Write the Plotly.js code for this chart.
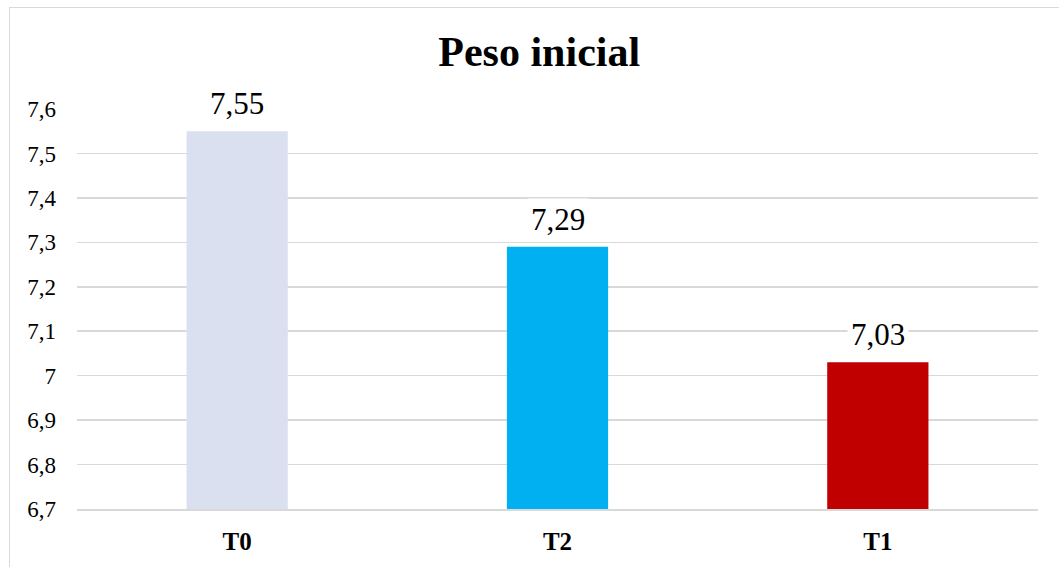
<!DOCTYPE html>
<html>
<head>
<meta charset="utf-8">
<script src="https://cdn.plot.ly/plotly-3.0.1.min.js"></script>
<style>
  html, body { margin: 0; padding: 0; background: #fff; }
  #wrap { position: relative; width: 1059px; height: 567px; overflow: hidden; }
  #chart { width: 1059px; height: 567px; }
  #frame { position: absolute; left: 9px; top: 7px; width: 1100px; height: 600px;
           border-top: 1.5px solid #D9D9D9; border-left: 1.5px solid #D9D9D9;
           pointer-events: none; }
</style>
</head>
<body>
<div id="wrap">
  <div id="chart"></div>
  <div id="frame"></div>
</div>
<script>
const categories = ["T0", "T2", "T1"];
const values = [7.55, 7.29, 7.03];
const barColors = ["#DAE0F0", "#00B0F0", "#C00000"];
const yTickValues = [6.7, 6.8, 6.9, 7.0, 7.1, 7.2, 7.3, 7.4, 7.5, 7.6];
const yTickLabels = ["6,7", "6,8", "6,9", "7", "7,1", "7,2", "7,3", "7,4", "7,5", "7,6"];
const valueLabels = ["7,55", "7,29", "7,03"];
const axisMin = 6.7;
const axisMax = 7.6;

const font = "Liberation Serif, Times New Roman, serif";

const trace = {
  type: "bar",
  x: categories,
  y: values.map(v => v - axisMin),
  base: axisMin,
  marker: { color: barColors, line: { width: 0 } },
  hoverinfo: "skip"
};

const annotations = categories.map((c, i) => ({
  x: c, y: values[i], xref: "x", yref: "y",
  text: valueLabels[i], showarrow: false,
  yanchor: "bottom", yshift: 6,
  font: { family: font, size: 31, color: "#000" },
  bgcolor: "#fff", borderpad: 3
}));

const layout = {
  width: 1059, height: 567,
  margin: { l: 77, r: 21, t: 109, b: 58 },
  paper_bgcolor: "#fff", plot_bgcolor: "#fff",
  showlegend: false,
  bargap: 0.684,
  separators: ",.",
  font: { family: font },
  title: {
    text: "<b>Peso inicial</b>",
    font: { family: font, size: 42, color: "#000" },
    x: 0.481, xref: "paper", xanchor: "center",
    y: 0.91, yref: "container", yanchor: "middle"
  },
  xaxis: {
    type: "category",
    showgrid: false, zeroline: false,
    showline: true, linecolor: "#D9D9D9", linewidth: 1.5,
    ticks: "",
    tickfont: { family: font, size: 25, color: "#000" },
    ticklabelstandoff: 9,
    tickvals: categories,
    ticktext: categories.map(c => "<b>" + c + "</b>")
  },
  yaxis: {
    range: [axisMin, axisMax],
    showgrid: true, gridcolor: "#D9D9D9", gridwidth: 1.5,
    zeroline: false, showline: false, ticks: "",
    tickvals: yTickValues, ticktext: yTickLabels,
    tickfont: { family: font, size: 23, color: "#000" },
    ticklabelstandoff: 20
  },
  annotations: annotations
};

Plotly.newPlot("chart", [trace], layout, { displayModeBar: false, staticPlot: true });
</script>
</body>
</html>
